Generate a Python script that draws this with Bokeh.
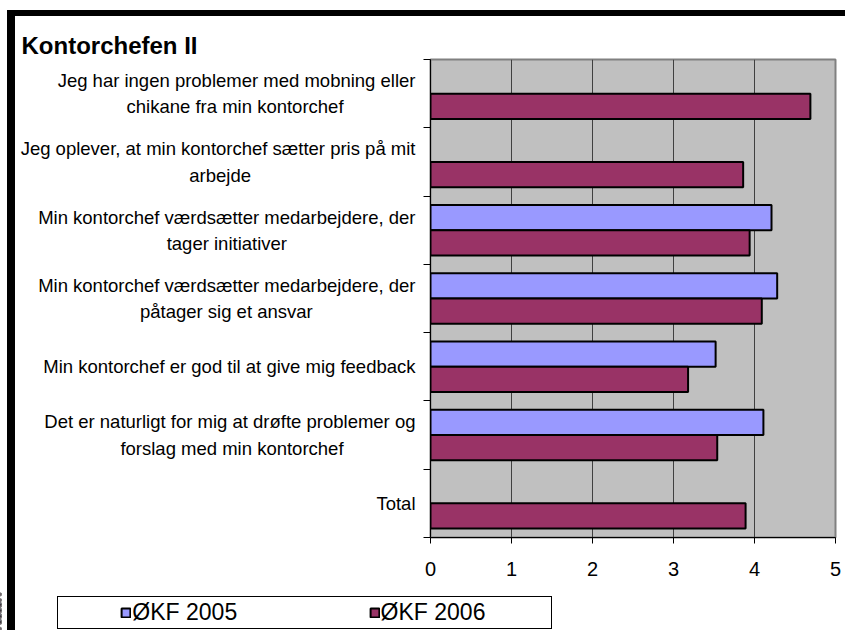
from bokeh.plotting import figure
from bokeh.layouts import column
from bokeh.models import Range1d, FixedTicker, Legend, LegendItem
from bokeh.embed import file_html
from bokeh.resources import INLINE

# ---------------- data ----------------
title_text = "Kontorchefen II"
categories = [
    "Jeg har ingen problemer med mobning eller\nchikane fra min kontorchef",
    "Jeg oplever, at min kontorchef sætter pris på mit\narbejde",
    "Min kontorchef værdsætter medarbejdere, der\ntager initiativer",
    "Min kontorchef værdsætter medarbejdere, der\npåtager sig et ansvar",
    "Min kontorchef er god til at give mig feedback",
    "Det er naturligt for mig at drøfte problemer og\nforslag med min kontorchef",
    "Total",
]
series_names = ["ØKF 2005", "ØKF 2006"]
values_2005 = [None, None, 4.21, 4.28, 3.52, 4.11, None]
values_2006 = [4.69, 3.86, 3.94, 4.09, 3.18, 3.54, 3.89]
x_ticks = [0, 1, 2, 3, 4, 5]

# ---------------- styling ----------------
FONT = "Liberation Sans"
COL_2005 = "#9999FF"
COL_2006 = "#993366"
W = 845
H1, H2 = 590, 40                      # chart figure, legend strip
FL, FT, FB, FR = 430, 59, 53, 10      # frame borders of the chart figure
BAR_H = 0.37
N = len(categories)
NBSP = "\u00a0"


def slot(i):
    # centre of category i (first category at the top)
    return N - 1 - i + 0.5


# Arial / Liberation Sans advance widths (per 1000 em)
AW = {' ': 278, ',': 278, '.': 278, 'a': 556, 'b': 556, 'c': 500, 'd': 556, 'e': 556, 'f': 278,
      'g': 556, 'h': 556, 'i': 222, 'j': 222, 'k': 500, 'l': 222, 'm': 833, 'n': 556, 'o': 556,
      'p': 556, 'q': 556, 'r': 333, 's': 500, 't': 278, 'u': 556, 'v': 500, 'w': 722, 'x': 500,
      'y': 500, 'z': 500, 'æ': 889, 'ø': 611, 'å': 556, 'D': 722, 'J': 500, 'M': 833, 'T': 611,
      'Ø': 778, 'K': 667, 'F': 611}


def tw(s, size):
    return sum(AW.get(c, 556) for c in s) * size / 1000.0


def centred(label, size):
    # right-aligned tick labels: pad shorter lines so they sit centred under the longest
    lines = label.split("\n")
    m = max(tw(s, size) for s in lines)
    out = []
    for s in lines:
        k = int(round((m - tw(s, size)) / 2 / (0.278 * size)))
        out.append(s + NBSP * k)
    return "\n".join(out)


p = figure(width=W, height=H1, x_range=Range1d(0, 5), y_range=Range1d(0, N),
           output_backend="svg", toolbar_location=None,
           min_border_left=FL, min_border_right=FR, min_border_top=FT, min_border_bottom=FB)
p.background_fill_color = "#C0C0C0"
p.border_fill_color = None
p.outline_line_color = "#808080"
p.outline_line_width = 2

# title
p.title.text = title_text
p.title.align = "left"
p.title.offset = 22 - FL - 1
p.title.standoff = 2
p.title.text_font = FONT
p.title.text_font_size = "24px"
p.title.text_font_style = "bold"
p.title.text_color = "black"

# x axis
p.xaxis.ticker = FixedTicker(ticks=x_ticks)
p.xaxis.axis_line_color = "black"
p.xaxis.axis_line_width = 1
p.xaxis.major_tick_line_color = "black"
p.xaxis.major_tick_in = 0
p.xaxis.major_tick_out = 6
p.xaxis.minor_tick_line_color = None
p.xaxis.major_label_text_font = FONT
p.xaxis.major_label_text_font_size = "20px"
p.xaxis.major_label_text_color = "black"
p.xaxis.major_label_standoff = 18
p.xgrid.ticker = FixedTicker(ticks=x_ticks)
p.xgrid.grid_line_color = "#404040"
p.xgrid.grid_line_width = 1
p.ygrid.visible = False

# y axis: labels at category centres, tick marks on category boundaries
LBL_SIZE = 18.5
centres = [slot(i) for i in range(N)]
p.yaxis.ticker = FixedTicker(ticks=centres, minor_ticks=list(range(N + 1)))
p.yaxis.major_label_overrides = {slot(i): centred(c, LBL_SIZE) for i, c in enumerate(categories)}
p.yaxis.axis_line_color = "black"
p.yaxis.major_tick_line_color = None
p.yaxis.major_tick_in = 0
p.yaxis.major_tick_out = 0
p.yaxis.minor_tick_line_color = "black"
p.yaxis.minor_tick_in = 0
p.yaxis.minor_tick_out = 7
p.yaxis.major_label_standoff = 8
p.yaxis.major_label_text_font = FONT
p.yaxis.major_label_text_font_size = f"{LBL_SIZE}px"
p.yaxis.major_label_text_color = "black"
p.yaxis.major_label_text_line_height = 1.25

# bars
y05 = [slot(i) + BAR_H / 2 for i, v in enumerate(values_2005) if v is not None]
v05 = [v for v in values_2005 if v is not None]
y06 = [slot(i) - BAR_H / 2 for i, v in enumerate(values_2006) if v is not None]
v06 = [v for v in values_2006 if v is not None]
p.hbar(y=y05, left=0, right=v05, height=BAR_H, fill_color=COL_2005, line_color="black", line_width=2)
p.hbar(y=y06, left=0, right=v06, height=BAR_H, fill_color=COL_2006, line_color="black", line_width=2)

# ---------------- legend strip ----------------
# its x range lies beyond the data, so the series glyphs only appear as legend swatches
q = figure(width=W, height=H2, x_range=Range1d(10, 11), y_range=Range1d(0, N),
           x_axis_location=None, y_axis_location=None, title=None,
           output_backend="svg", toolbar_location=None,
           min_border_left=0, min_border_right=0, min_border_top=0, min_border_bottom=0)
if "frame_align" in q.properties():
    p.frame_align = False
    q.frame_align = False
    LEG_X = 57
else:
    LEG_X = 57 - FL
q.grid.visible = False
q.outline_line_color = None
q.background_fill_color = None
q.border_fill_color = None
g_blank = q.hbar(y=[], left=[], right=[], height=1, fill_alpha=0, line_alpha=0)
g05 = q.hbar(y=y05, left=0, right=v05, height=BAR_H, fill_color=COL_2005, line_color="black", line_width=2)
g06 = q.hbar(y=y06, left=0, right=v06, height=BAR_H, fill_color=COL_2006, line_color="black", line_width=2)

LEG_SIZE = 23
nb = 0.278 * LEG_SIZE
lab05 = series_names[0] + NBSP * int(round((224 - tw(series_names[0], LEG_SIZE)) / nb))
lab06 = series_names[1] + NBSP * int(round((166 - tw(series_names[1], LEG_SIZE)) / nb))
legend = Legend(items=[LegendItem(label=NBSP * int(round(41 / nb)), renderers=[g_blank]),
                       LegendItem(label=lab05, renderers=[g05]),
                       LegendItem(label=lab06, renderers=[g06])],
                location=(LEG_X, 1), orientation="horizontal",
                glyph_width=11, glyph_height=11, label_standoff=1, label_width=0,
                label_height=24, spacing=10, padding=2, margin=0,
                border_line_color="black", border_line_width=1, border_line_alpha=1,
                background_fill_color="white", background_fill_alpha=1,
                label_text_font=FONT, label_text_font_size=f"{LEG_SIZE}px", label_text_color="black")
q.add_layout(legend, "center")

layout = column(p, q, spacing=0)
# chart-area black border along the top and left edges
layout.styles = {"box-shadow": "inset 7px 10px 0 0 white, inset 15px 16px 0 0 black"}

open("out.html", "w").write(file_html(layout, INLINE))
